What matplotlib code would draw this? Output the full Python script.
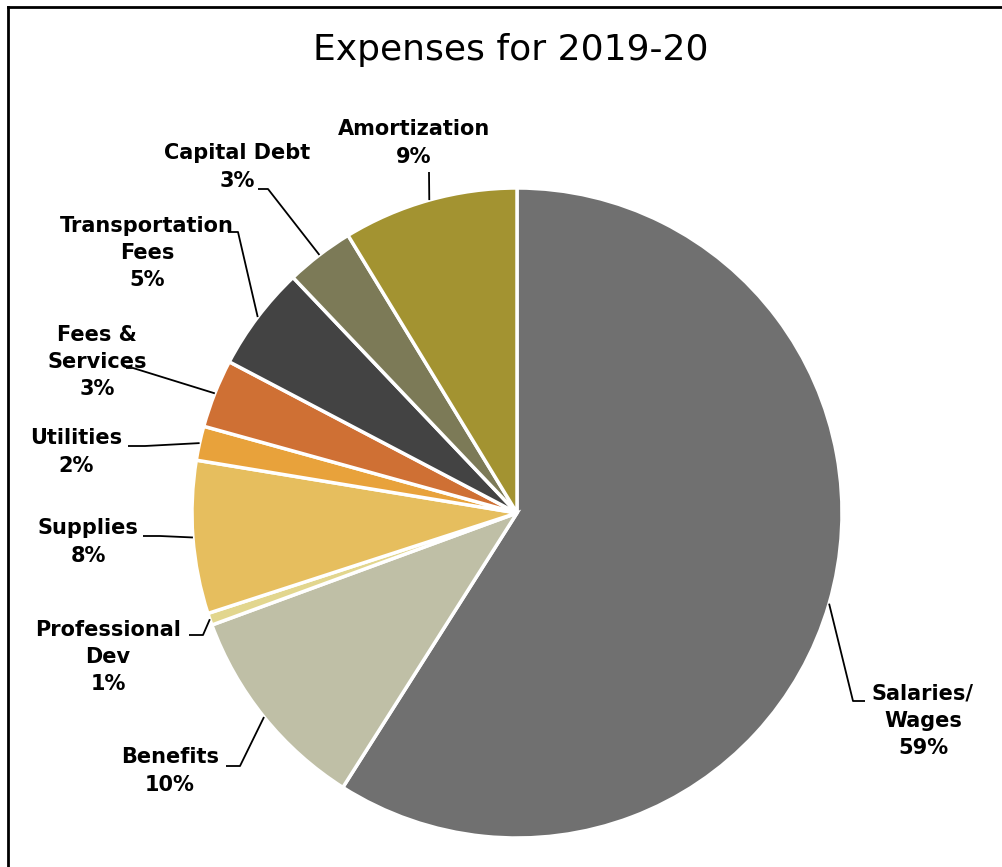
import numpy as np
import matplotlib.pyplot as plt

# expense shares, clockwise from 12 o'clock
categories = ["Salaries/\nWages", "Benefits", "Professional\nDev", "Supplies",
              "Utilities", "Fees &\nServices", "Transportation\nFees",
              "Capital Debt", "Amortization"]
shares = [59.0, 10.4, 0.6, 7.6, 1.7, 3.4, 5.2, 3.4, 8.7]
colors = ["#707070", "#BFBFA6", "#E2D68E", "#E6BE5E", "#E8A23B",
          "#CF7034", "#434343", "#7C7A57", "#A39331"]

W, H = 1002, 867
fig = plt.figure(figsize=(W / 100, H / 100), dpi=100)
ax = fig.add_axes([0, 0, 1, 1])

cx, cy, r = 517, H - 513, 325
wedges, _ = ax.pie(shares, colors=colors, startangle=90, counterclock=False,
                   center=(cx, cy), radius=r, frame=True,
                   wedgeprops=dict(edgecolor="white", linewidth=2.5))
ax.set_xlim(0, W)
ax.set_ylim(0, H)
ax.set_aspect("equal")
ax.axis("off")

# label centre, leader elbow and leader end (pixels from top-left)
label_pos = [(923, 721), (170, 771), (108, 657), (88, 542), (76, 452),
             (97, 362), (147, 253), (237, 167), (414, 143)]
elbows = [(853, 701), (240, 766), (203, 635), (160, 536), (145, 446),
          (133, 368), (238, 232), (268, 189), (429, 172)]
ends = [(865, 701), (226, 766), (189, 635), (143, 536), (128, 446),
        (126, 368), (228, 232), (258, 189), (429, 172)]

for w, name, s, (lx, ly), (ex, ey), (tx, ty) in zip(wedges, categories, shares,
                                                   label_pos, elbows, ends):
    a = np.deg2rad((w.theta1 + w.theta2) / 2)
    px, py = cx + r * np.cos(a), cy + r * np.sin(a)
    ax.plot([px, ex, tx], [py, H - ey, H - ty], color="black", lw=1.3,
            solid_capstyle="butt", zorder=3)
    ax.text(lx, H - ly, f"{name}\n{round(s):.0f}%", ha="center", va="center",
            multialignment="center", fontsize=15, fontweight="bold",
            family="DejaVu Sans", linespacing=1.45, zorder=4)

ax.text(511, H - 50, "Expenses for 2019-20", ha="center", va="center",
        fontsize=26, family="DejaVu Sans")

# chart border (left and top edges)
ax.plot([8, 8], [0, H - 7], color="black", lw=2, clip_on=False)
ax.plot([8, W], [H - 7, H - 7], color="black", lw=2, clip_on=False)

fig.savefig("out.png", dpi=100)
